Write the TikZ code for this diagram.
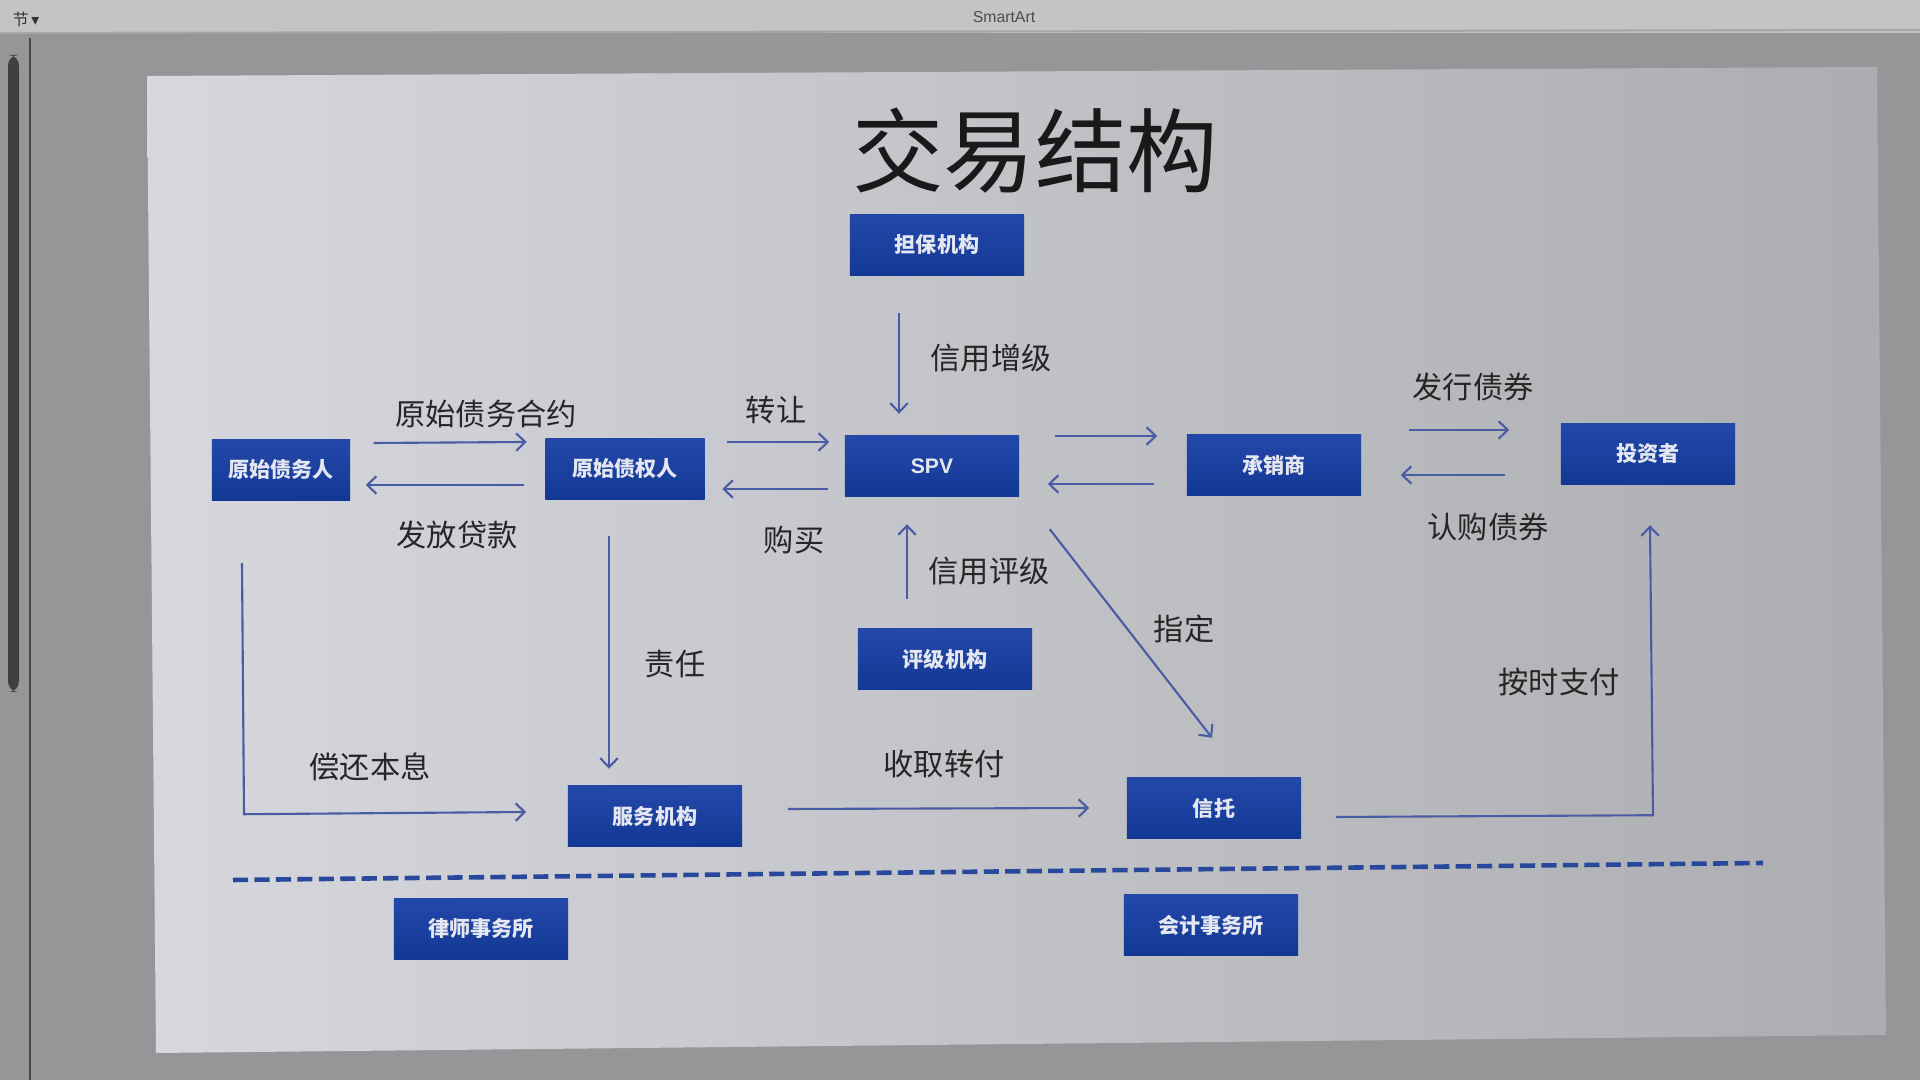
\documentclass[tikz,border=0pt]{standalone}
\usepackage{fontspec}
\newfontfamily\cjk{Noto Sans CJK SC}
\newfontfamily\symfont{DejaVu Sans}
\setsansfont{Liberation Sans}
\usepackage{xcolor}
\definecolor{bgdark}{RGB}{150,150,152}
\definecolor{toolbar}{RGB}{196,196,198}
\definecolor{slideL}{RGB}{214,216,222}
\definecolor{slideR}{RGB}{172,173,176}
\definecolor{boxtop}{RGB}{36,72,170}
\definecolor{boxbot}{RGB}{18,56,148}
\definecolor{boxtext}{RGB}{228,231,240}
\definecolor{arrblue}{RGB}{74,92,164}
\definecolor{sepblue}{RGB}{40,72,156}
\usetikzlibrary{arrows.meta,positioning,calc}

\begin{document}
\begin{tikzpicture}[x=0.01cm,y=-0.01cm,
  box/.style={top color=boxtop,bottom color=boxbot,draw=none,
    minimum width=1.74cm,minimum height=0.61cm,inner sep=0pt,
    text=boxtext,font=\cjk\bfseries\fontsize{6pt}{7pt}\selectfont},
  lbl/.style={text=black!85,font=\cjk\fontsize{8.6pt}{10pt}\selectfont},
  arr/.style={-{Straight Barb[length=2.6pt,width=5pt]},arrblue,line width=0.6pt},
  sep/.style={sepblue,line width=1.3pt,dash pattern=on 4.3pt off 1.8pt}
]
  \useasboundingbox (0,0) rectangle (1920,1080);

  % Screen and slide
  \fill[bgdark] (0,0) rectangle (1920,1080);
  \fill[toolbar] (0,0) rectangle (1920,33);
  \draw[gray!70,line width=0.6pt] (0,33) -- (1920,30);
  \draw[gray!55!black,line width=0.4pt] (30,38) -- (30,1080);
  \fill[gray!50!black,rounded corners=3pt] (8,55) rectangle (19,692);
  \node[font=\cjk\fontsize{4.5pt}{5pt}\selectfont,text=black!80] (sec) at (26,19) {节\,{\symfont ▾}};
  \node[font=\sffamily\fontsize{4.5pt}{5pt}\selectfont,text=black!70] (smart) at (1004,17) {SmartArt};
  \shade[left color=slideL,right color=slideR]
    (147,76) -- (1877,67) -- (1886,1035) -- (156,1053) -- cycle;

  % Title
  \node[text=black!90,font=\cjk\fontsize{26pt}{30pt}\selectfont] (title) at (1035,151) {交易结构};

  % Boxes
  \node[box] (guar) at (937,245) {担保机构};
  \node[box,minimum width=1.38cm] (debtor) at (281,470) {原始债务人};
  \node[box,minimum width=1.59cm] (creditor) at (625,469) {原始债权人};
  \node[box,font=\sffamily\bfseries\fontsize{6pt}{7pt}\selectfont] (spv) at (932,466) {SPV};
  \node[box] (under) at (1274,465) {承销商};
  \node[box] (inv) at (1648,454) {投资者};
  \node[box] (rating) at (945,659) {评级机构};
  \node[box] (servicer) at (655,816) {服务机构};
  \node[box] (trust) at (1214,808) {信托};
  \node[box] (lawyer) at (481,929) {律师事务所};
  \node[box] (acct) at (1211,925) {会计事务所};

  % Horizontal flows
  \draw[arr] ($(debtor.east)+(23,-27)$) -- ($(creditor.west)+(-18,-27)$);
  \draw[arr] ($(creditor.west)+(-21,16)$) -- ($(debtor.east)+(15,15)$);
  \draw[arr] ($(creditor.east)+(22,-27)$) -- ($(spv.west)+(-15,-24)$);
  \draw[arr] ($(spv.west)+(-16,23)$) -- ($(creditor.east)+(17,20)$);
  \draw[arr] ($(spv.east)+(35,-30)$) -- ($(under.west)+(-29,-29)$);
  \draw[arr] ($(under.west)+(-32,19)$) -- ($(spv.east)+(28,18)$);
  \draw[arr] ($(under.east)+(47,-35)$) -- ($(inv.west)+(-51,-24)$);
  \draw[arr] ($(inv.west)+(-55,21)$) -- ($(under.east)+(39,10)$);

  % Vertical and diagonal flows
  \draw[arr] ($(guar.south)+(-38,37)$) -- ($(spv.north)+(-33,-21)$);
  \draw[arr] ($(rating.north)+(-38,-29)$) -- ($(spv.south)+(-25,27)$);
  \draw[arr] ($(spv.south east)+(30,32)$) -- ($(trust.north)+(-2,-39)$);
  \draw[arr] ($(creditor.south)+(-16,36)$) -- ($(servicer.north)+(-46,-16)$);
  \draw[arr] ($(debtor.south)+(-39,62)$) -- ++(2,251) -- ($(servicer.west)+(-41,-4)$);
  \draw[arr] ($(servicer.east)+(45,-7)$) -- ($(trust.west)+(-37,0)$);
  \draw[arr] ($(trust.east)+(34,9)$) -- ($(inv.south)+(5,330)$) -- ($(inv.south)+(2,40)$);

  % Labels
  \node[lbl] (l1) at (486,414) {原始债务合约};
  \node[lbl] (l2) at (457,535) {发放贷款};
  \node[lbl] (l3) at (776,410) {转让};
  \node[lbl] (l4) at (794,540) {购买};
  \node[lbl] (l5) at (991,358) {信用增级};
  \node[lbl] (l6) at (989,571) {信用评级};
  \node[lbl] (l7) at (1473,387) {发行债券};
  \node[lbl] (l8) at (1488,527) {认购债券};
  \node[lbl] (l9) at (1184,629) {指定};
  \node[lbl] (l10) at (675,664) {责任};
  \node[lbl] (l11) at (370,767) {偿还本息};
  \node[lbl] (l12) at (944,764) {收取转付};
  \node[lbl] (l13) at (1559,682) {按时支付};

  % Separator
  \draw[sep] (233,880) -- (1763,863);
\end{tikzpicture}
\end{document}
